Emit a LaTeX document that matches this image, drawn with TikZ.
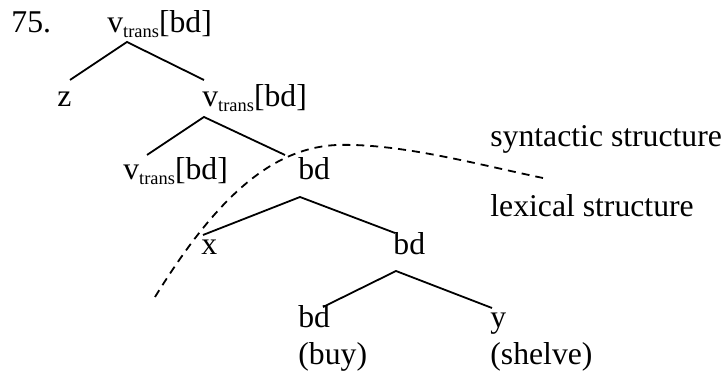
\documentclass[tikz,border=0pt]{standalone}
\usepackage{fontspec}
\setmainfont{Liberation Serif}
\usepackage{tikz}

\newcommand{\vsub}{v\raisebox{-2.5pt}{\fontsize{9.2}{10}\selectfont trans}[bd]}

\begin{document}
\begin{tikzpicture}[x=0.5pt, y=-0.5pt,
    every node/.style={inner sep=0pt, anchor=base west, font=\fontsize{15.85}{19}\selectfont},
    branch/.style={line width=0.9pt},
    boundary/.style={line width=0.9pt, dash pattern=on 4pt off 3pt}]

                \useasboundingbox (0,0) rectangle (725,373);

                % Nodes
                \node at (11,33) (num) {75.};
                \node at (107,33) (vt1) {\vsub};
                \node at (57,107) (z) {z};
                \node at (202,107) (vt2) {\vsub};
                \node at (123,180) (vt3) {\vsub};
                \node at (298,180) (bd1) {bd};
                \node at (201,255) (x) {x};
                \node at (393,255) (bd2) {bd};
                \node at (298,328) (bd3) {bd};
                \node at (298,365) (buy) {(buy)};
                \node at (490,328) (y) {y};
                \node at (490,365) (shelve) {(shelve)};
                \node at (490,147) (syn) {syntactic structure};
                \node at (490,217) (lex) {lexical structure};

                % Branches
                \draw[branch] ([shift={(13,-27)}]z.base west) -- ([shift={(20,9)}]vt1.base west) -- ([shift={(2,-27)}]vt2.base west);
                \draw[branch] ([shift={(24,-25)}]vt3.base west) -- ([shift={(2,10)}]vt2.base west) -- ([shift={(-13,-25)}]bd1.base west);
                \draw[branch] ([shift={(2,-20)}]x.base west) -- ([shift={(2,17)}]bd1.base west) -- ([shift={(2,-22)}]bd2.base west);
                \draw[branch] ([shift={(25,-21)}]bd3.base west) -- ([shift={(3,16)}]bd2.base west) -- ([shift={(2,-20)}]y.base west);

                % Dashed line between the two structures
                \draw[boundary] (155,297) .. controls (215,200) and (270,148) .. (337,145)
                                .. controls (400,143) and (480,165) .. (543,178);

            \end{tikzpicture}
\end{document}
